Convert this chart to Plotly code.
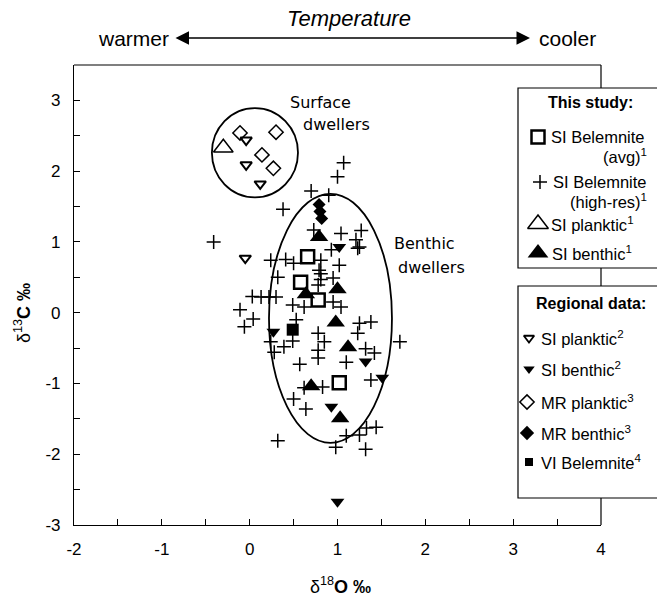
import plotly.graph_objects as go

# ------------------------------------------------------------------ data
# SI Belemnite (avg)
belem_avg_x = [0.66, 0.58, 0.78, 1.02]
belem_avg_y = [0.79, 0.43, 0.18, -0.99]

# SI Belemnite (high-res)
belem_hr_x = [-0.41, 0.03, -0.11, 0.04, -0.06, 1.07, 1.00, 0.70, 0.90, 0.38,
              0.73, 1.04, 1.27, 1.21, 0.93, 1.23, 0.24, 0.41, 0.50, 0.81,
              1.02, 0.32, 0.81, 0.95, 0.81, 0.13, 0.22, 0.30, 0.49, 0.62,
              1.04, 0.95, 0.78, 0.79, 0.53, 1.25, 1.38, 1.23, 0.78, 0.85,
              0.24, 0.39, 0.49, 0.28, 0.78, 0.78, 1.10, 1.32, 1.42, 1.71,
              0.57, 0.62, 0.83, 1.38, 0.50, 0.64, 0.32, 0.98, 1.10, 1.25,
              1.33, 1.44, 1.32, 1.25]
belem_hr_y = [1.00, 0.23, 0.04, -0.09, -0.20, 2.12, 1.92, 1.72, 1.66, 1.46,
              1.17, 1.12, 1.16, 1.03, 0.89, 0.91, 0.74, 0.75, 0.70, 0.74,
              0.67, 0.50, 0.55, 0.49, 0.47, 0.22, 0.22, 0.22, 0.11, 0.08,
              0.08, 0.15, 0.39, 0.60, -0.10, -0.15, -0.13, -0.29, -0.29, -0.41,
              -0.41, -0.48, -0.40, -0.56, -0.53, -0.64, -0.70, -0.51, -0.57, -0.41,
              -0.73, -1.06, -1.05, -0.95, -1.22, -1.36, -1.81, -1.90, -1.74, -1.73,
              -1.63, -1.62, -1.93, 0.93]

# SI planktic (this study)
si_plank1_x = [-0.30]
si_plank1_y = [2.33]
# SI benthic (this study)
si_benth1_x = [0.79, 1.00, 0.64, 0.98, 1.12, 0.70, 1.03]
si_benth1_y = [1.07, 0.33, 0.26, -0.14, -0.49, -1.04, -1.49]
# SI planktic (regional)
si_plank2_x = [-0.04, -0.04, 0.12, -0.05]
si_plank2_y = [2.44, 2.09, 1.82, 0.77]
# SI benthic (regional)
si_benth2_x = [1.02, 0.27, 1.32, 1.51, 0.93, 1.00]
si_benth2_y = [0.93, -0.27, -0.69, -0.92, -1.33, -2.67]
# MR planktic
mr_plank_x = [-0.11, 0.30, 0.14, 0.27]
mr_plank_y = [2.54, 2.55, 2.23, 2.04]
# MR benthic
mr_benth_x = [0.79, 0.80, 0.82]
mr_benth_y = [1.53, 1.43, 1.33]
# VI Belemnite
vi_bel_x = [0.49]
vi_bel_y = [-0.24]

# ellipses (data coords)
surface_ell = dict(x0=-0.43, x1=0.55, y0=1.63, y1=2.89)
benthic_ell = dict(x0=0.22, x1=1.62, y0=-1.84, y1=1.68)

x_range = [-2, 4]
y_range = [-3, 3.5]
x_ticks = [-2, -1, 0, 1, 2, 3, 4]
y_ticks = [-3, -2, -1, 0, 1, 2, 3]
x_ticktext = ["-2", "-1", "0", "1", "2", "3", "4"]
y_ticktext = ["-3", "-2", "-1", "0", "1", "2", "3"]

# ------------------------------------------------------------------ layout geometry (pixels)
W, H = 657, 601
L, R, T, B = 74, 601, 65, 525
FONT = "Liberation Sans, Arial, sans-serif"
HAND = "DejaVu Sans, sans-serif"


def px(xp):
    return (xp - L) / (R - L)


def py(yp):
    return (B - yp) / (B - T)


fig = go.Figure()

blk = "black"


def add(xs, ys, symbol, size, lw, color=blk, xaxis="x", yaxis="y"):
    fig.add_trace(go.Scatter(
        x=xs, y=ys, mode="markers", xaxis=xaxis, yaxis=yaxis,
        marker=dict(symbol=symbol, size=size, color=color,
                    line=dict(color=blk, width=lw)),
        cliponaxis=False, hoverinfo="skip"))


add(belem_hr_x, belem_hr_y, "cross-thin", 10, 1.5)
add(mr_plank_x, mr_plank_y, "diamond-open", 11, 1.5)
add(si_plank2_x, si_plank2_y, "triangle-down-open", 10, 2)
add(si_plank1_x, si_plank1_y, "triangle-up-open", 17, 1.5)
add(mr_benth_x, mr_benth_y, "diamond", 10, 0)
add(si_benth1_x, si_benth1_y, "triangle-up", 16, 0)
add(si_benth2_x, si_benth2_y, "triangle-down", 12, 0)
add(vi_bel_x, vi_bel_y, "square", 12, 0)
add(belem_avg_x, belem_avg_y, "square-open", 13, 2.5)

# legend symbols on a pixel-space overlay axis
leg = [
    ("square-open", 13, 2.5, 538, 137),
    ("cross-thin", 10, 1.5, 540, 182),
    ("triangle-up-open", 18, 1.5, 538, 224),
    ("triangle-up", 18, 0, 538, 253),
    ("triangle-down-open", 9, 1.8, 529, 338),
    ("triangle-down", 10, 0, 529, 369),
    ("diamond-open", 11, 1.5, 527, 402),
    ("diamond", 11, 0, 527, 433),
    ("square", 8, 0, 529, 462),
]
for sym, sz, lw, lx, ly in leg:
    add([lx], [ly], sym, sz, lw, xaxis="x2", yaxis="y2")

axis_common = dict(
    showgrid=False, zeroline=False, ticks="inside", ticklen=6, tickwidth=1.2,
    tickcolor=blk, showline=True, linecolor=blk, linewidth=1.2,
    tickfont=dict(family=FONT, size=17, color=blk), tickmode="array",
)
fig.update_layout(
    width=W, height=H,
    margin=dict(l=L, r=W - R, t=T, b=H - B),
    plot_bgcolor="white", paper_bgcolor="white", showlegend=False,
    xaxis=dict(range=x_range, tickvals=x_ticks, ticktext=x_ticktext, ticklabelstandoff=8,
               minor=dict(dtick=0.5, tick0=0, ticks="inside", ticklen=6,
                          tickcolor=blk, tickwidth=1.2, showgrid=False),
               **axis_common),
    yaxis=dict(range=y_range, tickvals=y_ticks, ticktext=y_ticktext, ticklabelstandoff=9,
               minor=dict(dtick=0.5, tick0=0, ticks="inside", ticklen=6,
                          tickcolor=blk, tickwidth=1.2, showgrid=False),
               **axis_common),
    xaxis2=dict(overlaying="x", range=[L, R], visible=False),
    yaxis2=dict(overlaying="y", range=[B, T], visible=False),
)

shapes = []
# top and right frame lines
shapes.append(dict(type="line", xref="paper", yref="paper", x0=0, x1=1, y0=1, y1=1,
                   line=dict(color=blk, width=1.2), layer="below"))
shapes.append(dict(type="line", xref="paper", yref="paper", x0=1, x1=1, y0=0, y1=1,
                   line=dict(color=blk, width=1.2), layer="below"))
# legend boxes
for y0p, y1p in [(88, 268), (286, 498)]:
    shapes.append(dict(type="rect", xref="paper", yref="paper",
                       x0=px(518), x1=px(680), y0=py(y1p), y1=py(y0p),
                       line=dict(color=blk, width=1.2), fillcolor="white", layer="below"))
# ellipses
for e in (surface_ell, benthic_ell):
    shapes.append(dict(type="circle", xref="x", yref="y", line=dict(color=blk, width=1.8), **e))
fig.update_layout(shapes=shapes)

ann = []


def text(t, xp, yp, size=16.5, xanchor="left", family=FONT, **kw):
    ann.append(dict(text=t, x=px(xp), y=py(yp), xref="paper", yref="paper",
                    xanchor=xanchor, yanchor="middle", showarrow=False,
                    font=dict(family=family, size=size, color=blk), **kw))


# legend text
text("<b>This study:</b>", 590, 103, size=16, xanchor="center")
text("SI Belemnite", 549, 137)
text("(avg)<sup>1</sup>", 649, 156, xanchor="right")
text("SI Belemnite", 551, 182)
text("(high-res)<sup>1</sup>", 649, 201, xanchor="right")
text("SI planktic<sup>1</sup>", 549, 224)
text("SI benthic<sup>1</sup>", 550, 253)
text("<b>Regional data:</b>", 591, 303, size=16, xanchor="center")
text("SI planktic<sup>2</sup>", 539, 338)
text("SI benthic<sup>2</sup>", 539, 369)
text("MR planktic<sup>3</sup>", 539, 402)
text("MR benthic<sup>3</sup>", 539, 433)
text("VI Belemnite<sup>4</sup>", 539, 462)

# in-plot group labels
text("Surface", 320, 103, size=16, xanchor="center", family=HAND)
text("dwellers", 336, 124, size=16, xanchor="center", family=HAND)
text("Benthic", 424, 243, size=16, xanchor="center", family=HAND)
text("dwellers", 431, 267, size=16, xanchor="center", family=HAND)

# temperature header
text("<i>Temperature</i>", 349, 18, size=22, xanchor="center")
text("warmer", 171, 38, size=21, xanchor="right")
text("cooler", 537, 38, size=21, xanchor="left")
ann.append(dict(text="", x=px(530), y=py(38), xref="paper", yref="paper",
                ax=-(530 - 174), ay=0, axref="pixel", ayref="pixel",
                showarrow=True, arrowside="end+start", arrowhead=2,
                arrowsize=1.8, arrowwidth=1.5, arrowcolor=blk))

# axis titles
text("δ<sup>18</sup><b>O ‰</b>", 340, 585, size=18, xanchor="center")
ann.append(dict(text="δ<sup>13</sup><b>C ‰</b>", x=px(22), y=py(313), xref="paper", yref="paper",
                xanchor="center", yanchor="middle", showarrow=False, textangle=-90,
                font=dict(family=FONT, size=18, color=blk)))

fig.update_layout(annotations=ann)
fig.write_html("out.html")
